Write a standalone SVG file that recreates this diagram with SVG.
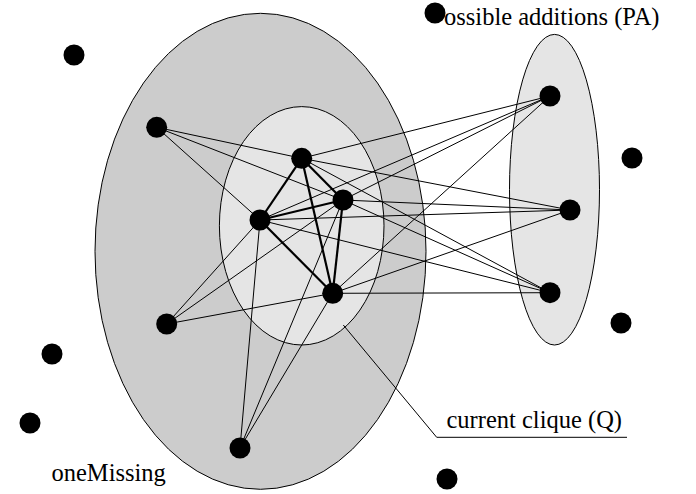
<svg xmlns="http://www.w3.org/2000/svg" width="696" height="494" viewBox="0 0 696 494">
  <style>
    .set { stroke: #000; stroke-width: 1; }
    .outer { fill: #cccccc; }
    .inner { fill: #e5e5e5; }
    .edge { stroke: #000; stroke-width: 1; fill: none; }
    .clique { stroke: #000; stroke-width: 2.2; fill: none; }
    .node { fill: #000; }
    .label { font-family: 'Liberation Serif', 'Times New Roman', Times, 'Nimbus Roman', 'Noto Serif', 'DejaVu Serif', FreeSerif, serif; font-size: 24.5px; fill: #000; }
  </style>

  <!-- sets -->
  <g id="sets">
    <ellipse id="oneMissing-set" class="set outer" cx="260.5" cy="251.3" rx="165.5" ry="238"/>
    <ellipse id="clique-set" class="set inner" cx="301.7" cy="225.8" rx="82.3" ry="119.2"/>
    <ellipse id="pa-set" class="set inner" cx="554.5" cy="189.7" rx="45" ry="155.3"/>
  </g>

  <!-- connectors -->
  <g id="connectors">
    <!-- clique edges -->
    <line class="clique" x1="301.7" y1="158.3" x2="343" y2="200"/>
    <line class="clique" x1="301.7" y1="158.3" x2="260" y2="220"/>
    <line class="clique" x1="301.7" y1="158.3" x2="332.7" y2="293.3"/>
    <line class="clique" x1="343" y1="200" x2="260" y2="220"/>
    <line class="clique" x1="343" y1="200" x2="332.7" y2="293.3"/>
    <line class="clique" x1="260" y1="220" x2="332.7" y2="293.3"/>
    <!-- oneMissing to clique -->
    <line class="edge" x1="156.7" y1="127.3" x2="301.7" y2="158.3"/>
    <line class="edge" x1="156.7" y1="127.3" x2="343" y2="200"/>
    <line class="edge" x1="156.7" y1="127.3" x2="260" y2="220"/>
    <line class="edge" x1="166.7" y1="324" x2="260" y2="220"/>
    <line class="edge" x1="166.7" y1="324" x2="343" y2="200"/>
    <line class="edge" x1="166.7" y1="324" x2="332.7" y2="293.3"/>
    <line class="edge" x1="240" y1="448" x2="260" y2="220"/>
    <line class="edge" x1="240" y1="448" x2="343" y2="200"/>
    <line class="edge" x1="240" y1="448" x2="332.7" y2="293.3"/>
    <!-- possible additions to clique -->
    <line class="edge" x1="550" y1="96" x2="301.7" y2="158.3"/>
    <line class="edge" x1="550" y1="96" x2="343" y2="200"/>
    <line class="edge" x1="550" y1="96" x2="260" y2="220"/>
    <line class="edge" x1="550" y1="96" x2="332.7" y2="293.3"/>
    <line class="edge" x1="570" y1="210" x2="301.7" y2="158.3"/>
    <line class="edge" x1="570" y1="210" x2="343" y2="200"/>
    <line class="edge" x1="570" y1="210" x2="260" y2="220"/>
    <line class="edge" x1="570" y1="210" x2="332.7" y2="293.3"/>
    <line class="edge" x1="550" y1="292.7" x2="301.7" y2="158.3"/>
    <line class="edge" x1="550" y1="292.7" x2="343" y2="200"/>
    <line class="edge" x1="550" y1="292.7" x2="260" y2="220"/>
    <line class="edge" x1="550" y1="292.7" x2="332.7" y2="293.3"/>
    <!-- label leader -->
    <polyline class="edge" points="343.3,325 436.7,437.3 627,437.3"/>
  </g>

  <!-- labels -->
  <g id="labels">
    <text class="label" x="444" y="24.5">ossible additions (PA)</text>
    <text class="label" x="446.5" y="428.3">current clique (Q)</text>
    <text class="label" x="51.5" y="481">oneMissing</text>
  </g>

  <!-- nodes -->
  <g id="node-q1"><circle class="node" cx="301.7" cy="158.3" r="10.5"/></g>
  <g id="node-q2"><circle class="node" cx="343" cy="200" r="10.5"/></g>
  <g id="node-q3"><circle class="node" cx="260" cy="220" r="10.5"/></g>
  <g id="node-q4"><circle class="node" cx="332.7" cy="293.3" r="10.5"/></g>
  <g id="node-m1"><circle class="node" cx="156.7" cy="127.3" r="10.5"/></g>
  <g id="node-m2"><circle class="node" cx="166.7" cy="324" r="10.5"/></g>
  <g id="node-m3"><circle class="node" cx="240" cy="448" r="10.5"/></g>
  <g id="node-p1"><circle class="node" cx="550" cy="96" r="10.5"/></g>
  <g id="node-p2"><circle class="node" cx="570" cy="210" r="10.5"/></g>
  <g id="node-p3"><circle class="node" cx="550" cy="292.7" r="10.5"/></g>
  <g id="node-o1"><circle class="node" cx="74" cy="55" r="10.5"/></g>
  <g id="node-o2"><circle class="node" cx="435" cy="13" r="10.5"/></g>
  <g id="node-o3"><circle class="node" cx="632" cy="158" r="10.5"/></g>
  <g id="node-o4"><circle class="node" cx="621" cy="323" r="10.5"/></g>
  <g id="node-o5"><circle class="node" cx="52" cy="354" r="10.5"/></g>
  <g id="node-o6"><circle class="node" cx="30" cy="423" r="10.5"/></g>
  <g id="node-o7"><circle class="node" cx="447" cy="479" r="10.5"/></g>
</svg>
